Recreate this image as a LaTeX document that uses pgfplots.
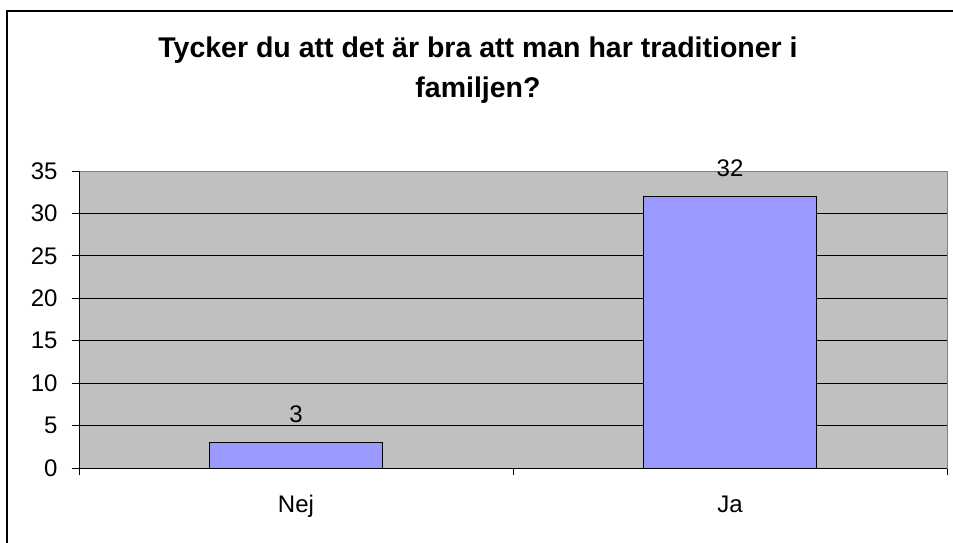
\documentclass[border=0pt]{standalone}
\usepackage{pgfplots}
\pgfplotsset{compat=1.18}
\usepackage{fontspec}
\setmainfont{Liberation Sans}
\definecolor{plotbg}{HTML}{C0C0C0}
\definecolor{barcol}{HTML}{9999FF}
\begin{document}
\begin{tikzpicture}[x=1pt,y=1pt]
\useasboundingbox (0,0) rectangle (953,542);
\draw[line width=1.5pt,black] (7,-10) -- (7,531) -- (965,531);
\node[font=\fontsize{28.5}{40}\selectfont\bfseries,align=center,anchor=base] at (478,444) {Tycker du att det är bra att man har traditioner i\\familjen?};
\begin{axis}[
  at={(79pt,74pt)}, anchor=south west,
  scale only axis, width=868pt, height=297pt,
  xmin=0.5, xmax=2.5, ymin=0, ymax=35,
  ytick={0,5,...,35},
  xtick={0.5,1.5,2.5}, xticklabels={},
  extra x ticks={1,2}, extra x tick labels={Nej,Ja},
  extra x tick style={major tick length=0pt, grid=none, xticklabel style={yshift=-24pt}},
  tick align=outside, major tick length=7pt,
  xtick pos=bottom, ytick pos=left,
  tick style={black, line width=0.8pt},
  ymajorgrids, grid style={black, line width=0.8pt},
  axis background/.style={fill=plotbg},
  axis line style={draw=gray, line width=0.8pt},
  ticklabel style={font=\fontsize{24}{28}\selectfont},
  /pgf/number format/assume math mode=true,
  yticklabel style={xshift=-11pt},
  ybar, bar width=0.4,
  nodes near coords,
  every node near coord/.append style={font=\fontsize{24}{28}\selectfont, anchor=base, yshift=20pt},
  clip=false,
]
\addplot[fill=barcol, draw=black, line width=0.8pt] coordinates {(1,3) (2,32)};
\draw[black, line width=1pt] (axis cs:0.5,35) -- (axis cs:0.5,0) -- (axis cs:2.5,0);
\end{axis}
\end{tikzpicture}
\end{document}
